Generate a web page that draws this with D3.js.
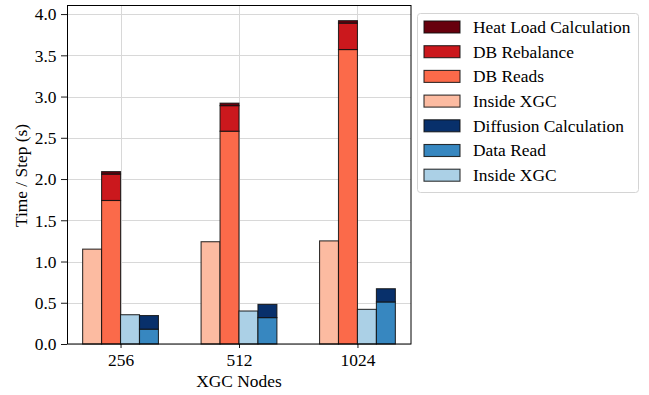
<!DOCTYPE html>
<html>
<head>
<meta charset="utf-8">
<script src="https://cdn.jsdelivr.net/npm/d3@7"></script>
<style>
	body { margin: 0; background: #fff; }
	text { font-family: "Liberation Serif", "DejaVu Serif", serif; }
</style>
</head>
<body>
<div id="chart"></div>
<script>
// data
let nodes = ["256", "512", "1024"];
let insideXgcRed = [1.15, 1.24, 1.25];
let dbReads = [1.74, 2.58, 3.57];
let dbRebalance = [0.32, 0.31, 0.32];
let heatLoad = [0.03, 0.03, 0.03];
let insideXgcBlue = [0.355, 0.40, 0.42];
let dataRead = [0.18, 0.32, 0.51];
let diffusion = [0.165, 0.16, 0.16];
let yTicks = [0, 0.5, 1, 1.5, 2, 2.5, 3, 3.5, 4];

let legendLabels = ["Heat Load Calculation", "DB Rebalance", "DB Reads", "Inside XGC",
	"Diffusion Calculation", "Data Read", "Inside XGC"];
let legendColors = ["#67000d", "#cb181d", "#fb6a4a", "#fcbba1", "#08306b", "#3787c0", "#abd0e6"];

var margin = {top: 5, right: 238, bottom: 51, left: 67};
var width = 649 - margin.left - margin.right,
	height = 395 - margin.top - margin.bottom;
var fontSize = 17.4;

var svg = d3.select("#chart").append("svg")
	.attr("width", 649)
	.attr("height", 395);
var g = svg.append("g")
	.attr("transform", "translate(" + margin.left + "," + margin.top + ")");

var barW = 0.16;
var xScale = d3.scaleLinear()
	.domain([-0.452, 2.452])
	.range([0, width]);
var yScale = d3.scaleLinear()
	.domain([0, 4.11])
	.range([height, 0]);

// grid
g.selectAll(".hgrid").data(yTicks).enter()
	.append("line")
	.attr("x1", 0).attr("x2", width)
	.attr("y1", d => Math.round(yScale(d)) + 0.5)
	.attr("y2", d => Math.round(yScale(d)) + 0.5)
	.attr("stroke", "#d8d8d8").attr("stroke-width", 1);
g.selectAll(".vgrid").data(nodes).enter()
	.append("line")
	.attr("y1", 0).attr("y2", height)
	.attr("x1", (d, i) => Math.round(xScale(i)) + 0.5)
	.attr("x2", (d, i) => Math.round(xScale(i)) + 0.5)
	.attr("stroke", "#d8d8d8").attr("stroke-width", 1);

// each bar: offset slot and list of stacked segments
var bars = [
	{slot: -1.5, segs: [[insideXgcRed, legendColors[3]]]},
	{slot: -0.5, segs: [[dbReads, legendColors[2]], [dbRebalance, legendColors[1]], [heatLoad, legendColors[0]]]},
	{slot: 0.5, segs: [[insideXgcBlue, legendColors[6]]]},
	{slot: 1.5, segs: [[dataRead, legendColors[5]], [diffusion, legendColors[4]]]}
];

var rects = [];
bars.forEach(function(b) {
	nodes.forEach(function(n, i) {
		var base = 0;
		b.segs.forEach(function(s) {
			rects.push({x: i + b.slot * barW, y0: base, y1: base + s[0][i], color: s[1]});
			base += s[0][i];
		});
	});
});

g.selectAll(".bar").data(rects).enter()
	.append("rect")
	.attr("class", "bar")
	.attr("x", d => xScale(d.x - barW / 2))
	.attr("width", d => xScale(barW) - xScale(0))
	.attr("y", d => yScale(d.y1))
	.attr("height", d => yScale(d.y0) - yScale(d.y1))
	.attr("fill", d => d.color)
	.attr("stroke", "#111")
	.attr("stroke-opacity", 0.85)
	.attr("stroke-width", 1.1);

// axes
var yAxis = d3.axisLeft(yScale).tickValues(yTicks).tickFormat(d3.format(".1f")).tickSizeOuter(0).tickSize(6);
var xAxis = d3.axisBottom(xScale).tickValues([0, 1, 2]).tickFormat((d) => nodes[d]).tickSizeOuter(0).tickSize(4);

var ya = g.append("g").call(yAxis);
var xa = g.append("g").attr("transform", "translate(0," + height + ")").call(xAxis);
[ya, xa].forEach(function(a) {
	a.select(".domain").remove();
	a.selectAll("text").attr("font-size", fontSize).attr("fill", "#000")
		.style("font-family", "'Liberation Serif', serif");
	a.selectAll("line").attr("stroke", "#000").attr("stroke-width", 0.9);
});
ya.selectAll("text").attr("x", -10.5).attr("dy", "0.34em");
xa.selectAll("text").attr("y", 8.5).attr("dy", "0.8em");

g.append("rect")
	.attr("x", 0.5).attr("y", 0.5)
	.attr("width", width - 0.5).attr("height", height - 0.5)
	.attr("fill", "none").attr("stroke", "#000").attr("stroke-width", 1);

// axis labels
svg.append("text")
	.attr("x", margin.left + width / 2)
	.attr("y", 387)
	.attr("text-anchor", "middle")
	.attr("font-size", fontSize)
	.text("XGC Nodes");
svg.append("text")
	.attr("transform", "translate(27," + (margin.top + height / 2 + 1) + ") rotate(-90)")
	.attr("text-anchor", "middle")
	.attr("font-size", fontSize)
	.text("Time / Step (s)");

// legend
var legend = svg.append("g").attr("transform", "translate(417,13)");
legend.append("rect")
	.attr("x", 0.5).attr("y", 0.5)
	.attr("width", 221).attr("height", 179)
	.attr("rx", 3)
	.attr("fill", "#fff")
	.attr("stroke", "#d4d4d4");
var rows = legend.selectAll(".row").data(legendLabels).enter()
	.append("g")
	.attr("transform", (d, i) => "translate(0," + (14 + i * 24.7) + ")");
rows.append("rect")
	.attr("x", 7).attr("y", -6)
	.attr("width", 36).attr("height", 12)
	.attr("fill", (d, i) => legendColors[i])
	.attr("stroke", "#111").attr("stroke-opacity", 0.85).attr("stroke-width", 1.1);
rows.append("text")
	.attr("x", 56).attr("dy", "0.34em")
	.attr("font-size", fontSize)
	.text(d => d);
</script>
</body>
</html>
